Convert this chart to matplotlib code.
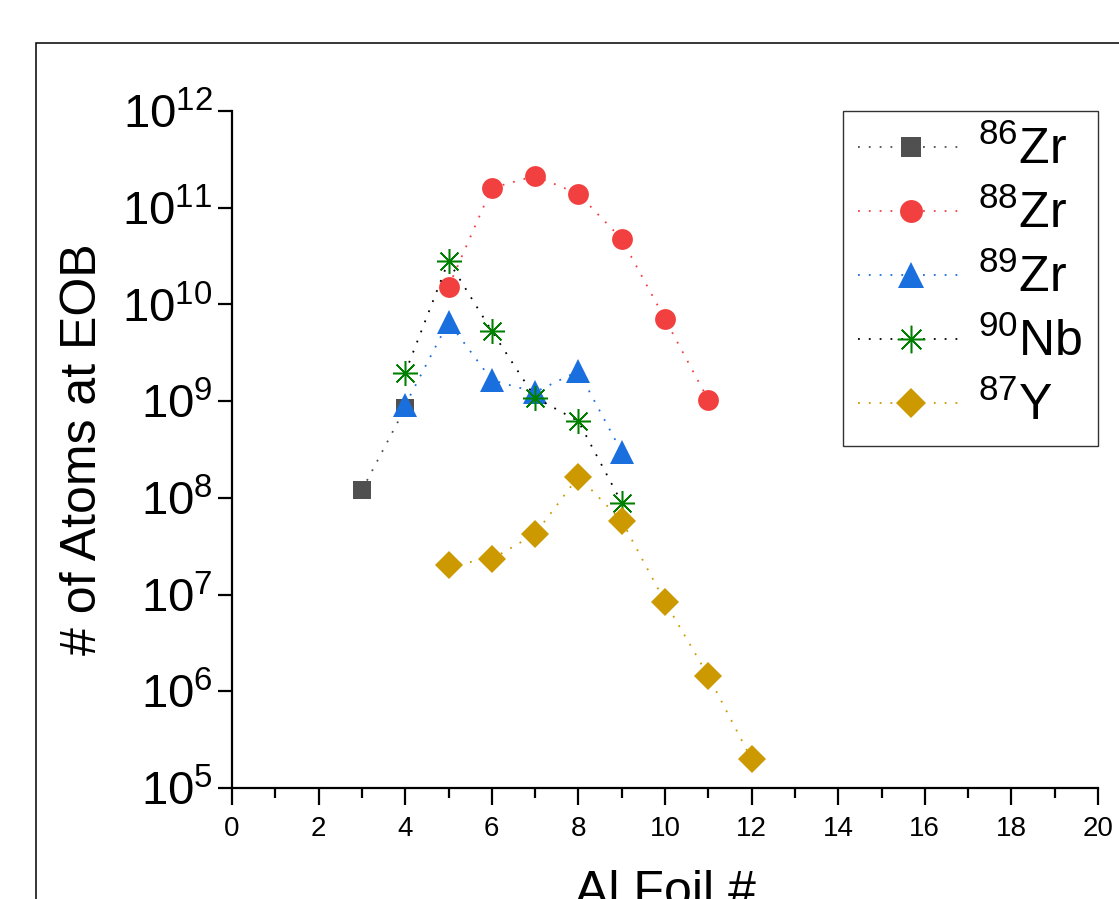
import numpy as np
import matplotlib.pyplot as plt
from matplotlib.patches import Rectangle

plt.rcParams['font.family'] = 'Liberation Sans'
plt.rcParams['mathtext.default'] = 'regular'

# 데이터
foil_zr86 = [3, 4]
zr86 = [1.2e8, 8.5e8]

foil_zr88 = [5, 6, 7, 8, 9, 10, 11]
zr88 = [1.52e10, 1.6e11, 2.13e11, 1.39e11, 4.75e10, 7.07e9, 1.03e9]

foil_zr89 = [4, 5, 6, 7, 8, 9]
zr89 = [9.1e8, 6.6e9, 1.65e9, 1.24e9, 2.05e9, 2.98e8]

foil_nb90 = [4, 5, 6, 7, 8, 9]
nb90 = [1.97e9, 2.81e10, 5.3e9, 1.09e9, 6.2e8, 8.9e7]

foil_y87 = [5, 6, 7, 8, 9, 10, 11, 12]
y87 = [2.02e7, 2.33e7, 4.23e7, 1.66e8, 5.8e7, 8.44e6, 1.44e6, 1.98e5]

fig = plt.figure(figsize=(11.19, 8.99), dpi=100)
ax = fig.add_axes([232/1119, 1 - 788/899, (1098 - 232)/1119, (788 - 111)/899])

# 바깥 테두리 (잘린 프레임)
fig.add_artist(Rectangle((36/1119, -0.2), 1.2, 1.2 - 43/899,
                         transform=fig.transFigure, fill=False,
                         edgecolor='black', linewidth=1.1))

dot = (0, (1, 5))
ax.plot(foil_zr86, zr86, linestyle=dot, color='#505050', lw=1.3,
        marker='s', markersize=13.5, markerfacecolor='#505050', markeredgewidth=0,
        label=r'$^{86}$Zr')
ax.plot(foil_zr88, zr88, linestyle=dot, color='#F24040', lw=1.3,
        marker='o', markersize=15, markerfacecolor='#F24040', markeredgewidth=0,
        label=r'$^{88}$Zr')
ax.plot(foil_zr89, zr89, linestyle=dot, color='#1A6FDF', lw=1.3,
        marker='^', markersize=17, markerfacecolor='#1A6FDF', markeredgewidth=0,
        label=r'$^{89}$Zr')
ax.plot(foil_nb90, nb90, linestyle=dot, color='black', lw=1.3,
        marker=(8, 2, 0), markersize=18, markeredgecolor='#008000',
        markeredgewidth=1.1, label=r'$^{90}$Nb')
ax.plot(foil_y87, y87, linestyle=dot, color='#CC9900', lw=1.3,
        marker='D', markersize=14, markerfacecolor='#CC9900', markeredgewidth=0,
        label=r'$^{87}$Y')

ax.set_yscale('log')
ax.set_ylim(1e5, 1e12)
ax.set_xlim(0, 20)
ax.set_xticks(np.arange(0, 21, 2))
ax.set_xticks(np.arange(0, 21, 1), minor=True)
ax.set_yticks([10.0**k for k in range(5, 13)])
ax.yaxis.set_minor_locator(plt.NullLocator())

for s in ['top', 'right']:
    ax.spines[s].set_visible(False)
for s in ['left', 'bottom']:
    ax.spines[s].set_linewidth(1.6)

ax.tick_params(axis='y', which='major', direction='out', length=10, width=1.6,
               labelsize=34, pad=4)
ax.tick_params(axis='x', which='major', direction='out', length=12, width=1.6,
               labelsize=20, pad=8)
ax.tick_params(axis='x', which='minor', direction='out', length=7, width=1.6)

ax.set_ylabel('# of Atoms at EOB', fontsize=36, labelpad=12)
ax.set_xlabel('Al Foil #', fontsize=36, labelpad=20)

leg = ax.legend(loc='upper right', fontsize=36, frameon=True, fancybox=False,
                edgecolor='black', borderaxespad=0, numpoints=1, markerscale=1.1,
                handlelength=2.1, labelspacing=0.32, borderpad=0.3,
                handletextpad=0.3)
leg.get_frame().set_linewidth(1.0)

plt.savefig('out.png', dpi=100)
